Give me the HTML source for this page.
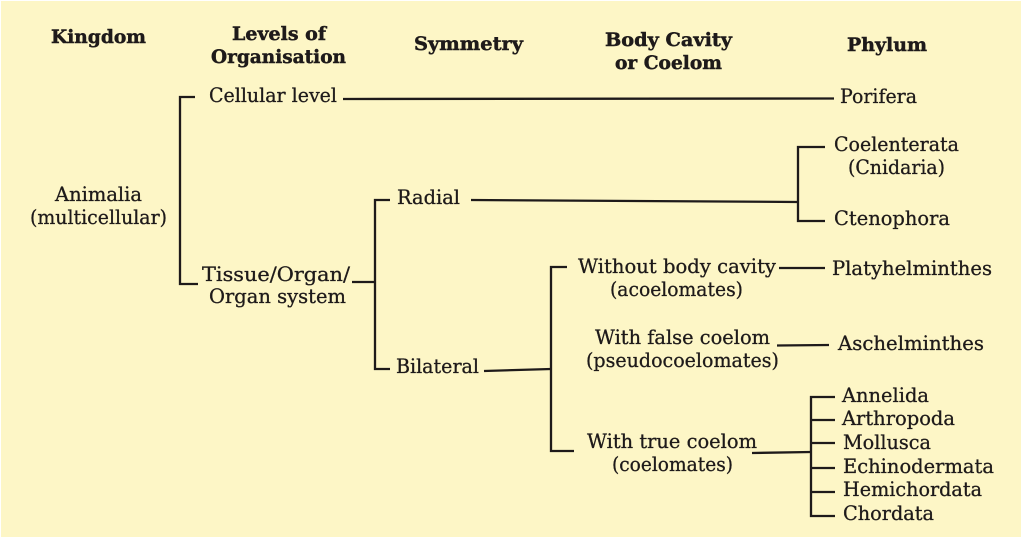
<!DOCTYPE html>
<html>
<head>
<meta charset="utf-8">
<style>
  html, body { margin: 0; padding: 0; background: #ffffff; }
  body { width: 1024px; height: 537px; overflow: hidden; }
  svg { display: block; }
  .h { font-family: "DejaVu Serif", "Liberation Serif", serif; font-weight: bold; font-size: 18.5px; fill: #1e1a1a; stroke: #1e1a1a; stroke-width: 0.45; }
  .t { font-family: "DejaVu Serif", "Liberation Serif", serif; font-size: 19.5px; fill: #1e1a1a; stroke: #1e1a1a; stroke-width: 0.3; }
  .l { stroke: #1e1a1a; stroke-width: 2.3; fill: none; stroke-linecap: butt; stroke-linejoin: miter; }
</style>
</head>
<body>
<svg width="1024" height="537" viewBox="0 0 1024 537" xmlns="http://www.w3.org/2000/svg">
  <rect x="1" y="1" width="1020" height="536" fill="#fdf6c6"/>

  <!-- Headers -->
  <text class="h" x="51" y="43" textLength="95" lengthAdjust="spacingAndGlyphs">Kingdom</text>
  <text class="h" x="232" y="40" textLength="94" lengthAdjust="spacingAndGlyphs">Levels of</text>
  <text class="h" x="211" y="63" textLength="135" lengthAdjust="spacingAndGlyphs">Organisation</text>
  <text class="h" x="414" y="50" textLength="109" lengthAdjust="spacingAndGlyphs">Symmetry</text>
  <text class="h" x="605" y="46" textLength="127" lengthAdjust="spacingAndGlyphs">Body Cavity</text>
  <text class="h" x="615" y="69" textLength="107" lengthAdjust="spacingAndGlyphs">or Coelom</text>
  <text class="h" x="847" y="51" textLength="80" lengthAdjust="spacingAndGlyphs">Phylum</text>

  <!-- Kingdom -->
  <text class="t" x="55" y="201" textLength="87" lengthAdjust="spacingAndGlyphs">Animalia</text>
  <text class="t" x="30" y="224" textLength="137" lengthAdjust="spacingAndGlyphs">(multicellular)</text>

  <!-- Levels -->
  <text class="t" x="209" y="102" textLength="128" lengthAdjust="spacingAndGlyphs">Cellular level</text>
  <text class="t" x="202" y="281" textLength="148" lengthAdjust="spacingAndGlyphs">Tissue/Organ/</text>
  <text class="t" x="209" y="303" textLength="137" lengthAdjust="spacingAndGlyphs">Organ system</text>

  <!-- Symmetry -->
  <text class="t" x="397" y="204" textLength="63" lengthAdjust="spacingAndGlyphs">Radial</text>
  <text class="t" x="396" y="373" textLength="83" lengthAdjust="spacingAndGlyphs">Bilateral</text>

  <!-- Body cavity -->
  <text class="t" x="578" y="273" textLength="198" lengthAdjust="spacingAndGlyphs">Without body cavity</text>
  <text class="t" x="610" y="296" textLength="133" lengthAdjust="spacingAndGlyphs">(acoelomates)</text>
  <text class="t" x="595" y="344" textLength="175" lengthAdjust="spacingAndGlyphs">With false coelom</text>
  <text class="t" x="586" y="367" textLength="193" lengthAdjust="spacingAndGlyphs">(pseudocoelomates)</text>
  <text class="t" x="587" y="448" textLength="170" lengthAdjust="spacingAndGlyphs">With true coelom</text>
  <text class="t" x="612" y="471" textLength="121" lengthAdjust="spacingAndGlyphs">(coelomates)</text>

  <!-- Phyla -->
  <text class="t" x="840" y="103" textLength="77" lengthAdjust="spacingAndGlyphs">Porifera</text>
  <text class="t" x="834" y="151" textLength="125" lengthAdjust="spacingAndGlyphs">Coelenterata</text>
  <text class="t" x="848" y="174" textLength="97" lengthAdjust="spacingAndGlyphs">(Cnidaria)</text>
  <text class="t" x="834" y="225" textLength="116" lengthAdjust="spacingAndGlyphs">Ctenophora</text>
  <text class="t" x="832" y="275" textLength="160" lengthAdjust="spacingAndGlyphs">Platyhelminthes</text>
  <text class="t" x="838" y="350" textLength="146" lengthAdjust="spacingAndGlyphs">Aschelminthes</text>
  <text class="t" x="842" y="402" textLength="87" lengthAdjust="spacingAndGlyphs">Annelida</text>
  <text class="t" x="842" y="425" textLength="113" lengthAdjust="spacingAndGlyphs">Arthropoda</text>
  <text class="t" x="843" y="449" textLength="88" lengthAdjust="spacingAndGlyphs">Mollusca</text>
  <text class="t" x="843" y="473" textLength="151" lengthAdjust="spacingAndGlyphs">Echinodermata</text>
  <text class="t" x="843" y="496" textLength="139" lengthAdjust="spacingAndGlyphs">Hemichordata</text>
  <text class="t" x="843" y="520" textLength="91" lengthAdjust="spacingAndGlyphs">Chordata</text>

  <!-- Connectors -->
  <polyline class="l" points="195,97 180,97 180,284 198,284"/>
  <line class="l" x1="343" y1="99" x2="834" y2="98.5"/>
  <line class="l" x1="352" y1="282" x2="375" y2="282"/>
  <polyline class="l" points="390,200 375,200 375,369 390,369"/>
  <line class="l" x1="471" y1="200" x2="798" y2="202"/>
  <polyline class="l" points="825,147 798,147 798,221 825,221"/>
  <line class="l" x1="484" y1="371" x2="551" y2="369"/>
  <polyline class="l" points="567,267 551,267 551,451 574,451"/>
  <line class="l" x1="779" y1="268" x2="825" y2="268"/>
  <line class="l" x1="777" y1="345.5" x2="829" y2="345"/>
  <line class="l" x1="752" y1="453" x2="811" y2="452"/>
  <polyline class="l" points="835,397 811,397 811,516 835,516"/>
  <line class="l" x1="811" y1="420" x2="835" y2="420"/>
  <line class="l" x1="811" y1="443" x2="835" y2="443"/>
  <line class="l" x1="811" y1="468" x2="835" y2="468"/>
  <line class="l" x1="811" y1="492" x2="835" y2="492"/>
</svg>
</body>
</html>
